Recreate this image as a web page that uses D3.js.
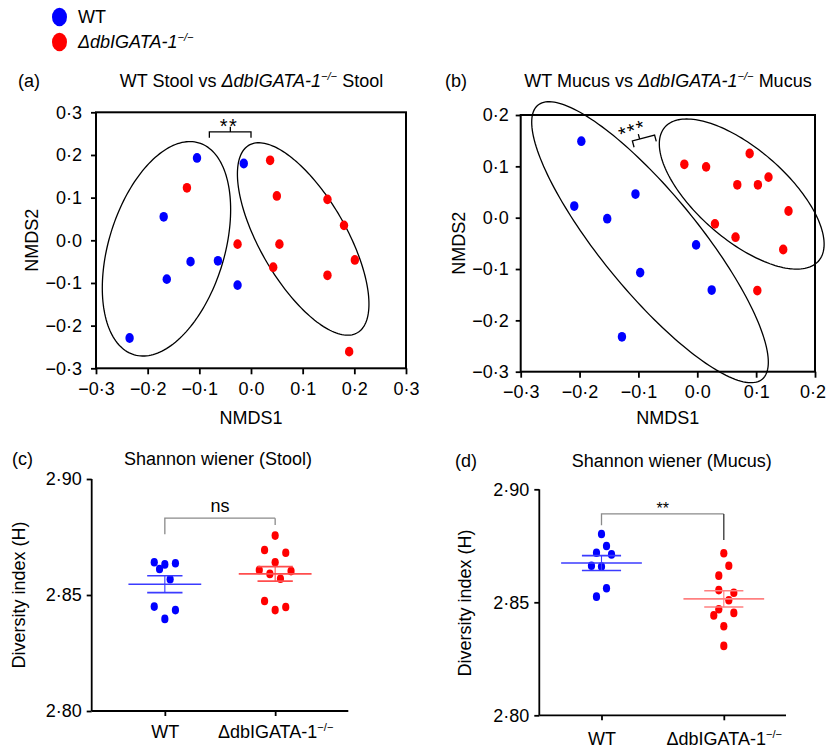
<!DOCTYPE html>
<html><head><meta charset="utf-8">
<script src="https://cdn.jsdelivr.net/npm/d3@7"></script>
<style>
body{margin:0;background:#fff;}
text{font-family:"Liberation Sans",Arial,Helvetica,sans-serif;fill:#000;}
</style></head><body>
<svg id="chart" width="827" height="750"></svg>
<script>
// ---------------- DATA ----------------
const groups = ["WT", "ΔdbIGATA-1−/−"];
const nmdsTicksA = [-0.3, -0.2, -0.1, 0, 0.1, 0.2, 0.3];
const nmdsTicksB = [-0.3, -0.2, -0.1, 0, 0.1, 0.2];
const diversityTicks = [2.80, 2.85, 2.90];

// NMDS ordination points [NMDS1, NMDS2]
const stoolWT = [[-0.1045,0.193],[-0.014,0.180],[-0.169,0.055],[-0.117,-0.050],[-0.064,-0.048],[-0.163,-0.091],[-0.026,-0.105],[-0.235,-0.229]];
const stoolKO = [[0.037,0.1875],[-0.124,0.123],[0.050,0.104],[0.148,0.096],[0.180,0.035],[-0.026,-0.009],[0.055,-0.009],[0.201,-0.046],[0.043,-0.063],[0.148,-0.082],[0.190,-0.261]];
const mucusWT = [[-0.197,0.149],[-0.209,0.0227],[-0.153,-0.002],[-0.105,0.046],[-0.097,-0.107],[-0.002,-0.053],[0.0245,-0.141],[-0.128,-0.232]];
const mucusKO = [[-0.022,0.104],[0.015,0.099],[0.089,0.125],[0.121,0.079],[0.068,0.064],[0.103,0.064],[0.155,0.013],[0.030,-0.012],[0.065,-0.038],[0.146,-0.062],[0.102,-0.142]];

// group ellipses in data units: centre (cx,cy), conjugate semi-diameters (ax,ay) and (0,by)
const stoolEllipses = [
  {cx:-0.1636, cy:-0.0199, ax:0.1242, ay:0.0919, by:0.2339},
  {cx:0.101, cy:0.0031, ax:0.1273, ay:-0.1523, by:0.1664}
];
const mucusEllipses = [
  {cx:-0.0803, cy:-0.0478, ax:0.201, ay:-0.2337, by:0.1424},
  {cx:0.0755, cy:0.046, ax:0.14, ay:-0.0976, by:0.1089}
];

// Shannon diversity values
const shannonStoolWT = [2.8641,2.8612,2.8632,2.8637,2.8568,2.8450,2.8435,2.8397];
const shannonStoolKO = [2.8756,2.8694,2.8682,2.8641,2.8608,2.8591,2.8603,2.8570,2.8474,2.8435,2.8448];
const shannonMucusWT = [2.8802,2.8749,2.8719,2.8712,2.8662,2.8658,2.8562,2.8525];
const shannonMucusKO = [2.8717,2.8662,2.8618,2.8554,2.8542,2.8509,2.8469,2.8442,2.8453,2.8394,2.8307];
// scatter-plot jitter slots
const jitterStoolWT = [-2,-1,0,2,1,-2,2,0];
const jitterStoolKO = [0,-2,2,0,-3,-1,3,1,-2,0,2];
const jitterMucusWT = [0,1,-1,2,-2,0,1,-1];
const jitterMucusKO = [0,1,-1,-1,2,1,-1,-2,2,0,0];

// ---------------- DRAW ----------------
const BLUE = "#0000ff", RED = "#ff0000";
const FONT = 18;
const svg = d3.select("#chart");

const fmt1 = d => (d < -1e-9 ? "−" : "") + Math.abs(d).toFixed(1).replace(".", "·");
const fmt2 = d => d.toFixed(2).replace(".", "·");

function richText(sel, parts, size) {
  parts.forEach(p => {
    const ts = sel.append("tspan").text(p.t);
    if (p.italic) ts.attr("font-style", "italic");
    if (p.sup) { ts.attr("font-size", size * 0.62).attr("dy", -size * 0.4); }
    if (p.after) ts.attr("dy", size * 0.4);
  });
}
function koParts(italic) {
  return [{t:"ΔdbIGATA-1", italic}, {t:"−/−", italic, sup:true}];
}

function styleAxis(g) {
  g.selectAll("text").attr("font-size", FONT).attr("fill", "#000")
    .style("font-family", '"Liberation Sans",Arial,Helvetica,sans-serif');
  g.selectAll("line").attr("stroke", "#000").attr("stroke-width", 1.8);
  g.select(".domain").remove();
}

// legend
const legend = svg.append("g");
legend.append("ellipse").attr("cx", 59.5).attr("cy", 17).attr("rx", 7.5).attr("ry", 9.3).attr("fill", BLUE);
legend.append("ellipse").attr("cx", 59.5).attr("cy", 42).attr("rx", 7.5).attr("ry", 9.3).attr("fill", RED);
legend.append("text").attr("x", 78).attr("y", 23).attr("font-size", FONT).text(groups[0]);
richText(legend.append("text").attr("x", 78).attr("y", 48).attr("font-size", FONT), koParts(true), FONT);

function nmdsPanel(cfg) {
  const g = svg.append("g");
  const x = d3.scaleLinear().domain(cfg.xDomain).range(cfg.xRange);
  const y = d3.scaleLinear().domain(cfg.yDomain).range(cfg.yRange);

  const ax = g.append("g").attr("transform", `translate(0,${cfg.yRange[0]})`)
    .call(d3.axisBottom(x).tickValues(cfg.xTicks).tickFormat(fmt1).tickSize(6).tickPadding(8));
  styleAxis(ax);
  if (cfg.lastDx) ax.selectAll(".tick text").filter((d, i, n) => i === n.length - 1).attr("dx", cfg.lastDx);
  const ay = g.append("g").attr("transform", `translate(${cfg.xRange[0]},0)`)
    .call(d3.axisLeft(y).tickValues(cfg.yTicks).tickFormat(fmt1).tickSize(5).tickPadding(cfg.yPad));
  styleAxis(ay);

  g.append("rect").attr("x", cfg.xRange[0]).attr("y", cfg.yRange[1])
    .attr("width", cfg.xRange[1] - cfg.xRange[0]).attr("height", cfg.yRange[0] - cfg.yRange[1])
    .attr("fill", "none").attr("stroke", "#000").attr("stroke-width", 2);

  // ellipses
  const ts = d3.range(0, 2 * Math.PI, Math.PI / 90);
  const line = d3.line().curve(d3.curveLinearClosed);
  cfg.ellipses.forEach(e => {
    const pts = ts.map(t => [x(e.cx + e.ax * Math.cos(t)), y(e.cy + e.ay * Math.cos(t) + e.by * Math.sin(t))]);
    g.append("path").attr("d", line(pts)).attr("fill", "none").attr("stroke", "#000").attr("stroke-width", 1.3);
  });

  [[cfg.wt, BLUE], [cfg.ko, RED]].forEach(([data, col]) => {
    g.selectAll(null).data(data).enter().append("ellipse")
      .attr("cx", d => x(d[0])).attr("cy", d => y(d[1]))
      .attr("rx", 4.2).attr("ry", 4.9).attr("fill", col);
  });

  // labels
  g.append("text").attr("x", cfg.tagX).attr("y", 87).attr("font-size", FONT).text(cfg.tag);
  const title = g.append("text").attr("x", cfg.titleX).attr("y", 87).attr("font-size", FONT).attr("text-anchor", "middle");
  richText(title, [{t: cfg.titleA}, ...koParts(true), {t: cfg.titleB, after:true}], FONT);
  g.append("text").attr("x", (cfg.xRange[0] + cfg.xRange[1]) / 2).attr("y", 424)
    .attr("font-size", FONT).attr("text-anchor", "middle").text("NMDS1");
  g.append("text").attr("transform", `translate(${cfg.yLabX},${(cfg.yRange[0] + cfg.yRange[1]) / 2}) rotate(-90)`)
    .attr("font-size", FONT).attr("text-anchor", "middle").text("NMDS2");
  return {g, x, y};
}

// (a)
const pa = nmdsPanel({
  xDomain: [-0.3, 0.3], yDomain: [-0.3, 0.3], xRange: [96, 406], yRange: [368.3, 112.3],
  xTicks: nmdsTicksA, yTicks: nmdsTicksA, yPad: 9, wt: stoolWT, ko: stoolKO, ellipses: stoolEllipses,
  tag: "(a)", tagX: 18, titleX: 251.5, titleA: "WT Stool vs ", titleB: " Stool", yLabX: 38
});
{
  const {g, x, y} = pa;
  const x1 = -0.0806, x2 = 0, xm = -0.04, yb = 0.254, ye = 0.2406, yt = 0.266;
  g.append("path").attr("d", `M${x(x1)},${y(ye)}V${y(yb)}H${x(x2)}V${y(ye)}M${x(xm)},${y(yb)}V${y(yt)}`)
    .attr("fill", "none").attr("stroke", "#000").attr("stroke-width", 1.3);
  g.append("text").attr("x", x(-0.0426)).attr("y", y(0.2796)).attr("dy", 11.5).attr("font-size", 20)
    .attr("letter-spacing", 1.5).attr("text-anchor", "middle").text("**");
}
// (b)
const pb = nmdsPanel({
  xDomain: [-0.3, 0.2], yDomain: [-0.3, 0.2], xRange: [520.7, 815], yRange: [371.7, 115],
  xTicks: nmdsTicksB, yTicks: nmdsTicksB, yPad: 7, wt: mucusWT, ko: mucusKO, ellipses: mucusEllipses,
  tag: "(b)", tagX: 445, titleX: 668, titleA: "WT Mucus vs ", titleB: " Mucus", yLabX: 465, lastDx: -2.5
});
{
  const {g, x, y} = pb;
  const br = g.append("g").attr("transform", `translate(${x(-0.0914)},${y(0.1552)}) rotate(-15)`);
  br.append("path").attr("d", "M-11.5,6.5V0H11.5V6.5M-4,0V-5")
    .attr("fill", "none").attr("stroke", "#000").attr("stroke-width", 1.3);
  g.append("text").attr("transform", `translate(${x(-0.1126)},${y(0.1786)}) rotate(-20)`)
    .attr("dy", 11.5).attr("font-size", 20).attr("letter-spacing", 1.5).attr("text-anchor", "middle").text("***");
}

function shannonPanel(cfg) {
  const g = svg.append("g");
  const x = d3.scalePoint().domain(groups).range(cfg.xRange).padding(cfg.pad);
  const y = d3.scaleLinear().domain([2.80, 2.90]).range(cfg.yRange);
  const step = x.step();

  const ay = g.append("g").attr("transform", `translate(${cfg.xRange[0]},0)`)
    .call(d3.axisLeft(y).tickValues(diversityTicks).tickFormat(fmt2).tickSize(5).tickPadding(5));
  styleAxis(ay);
  g.append("line").attr("x1", cfg.xRange[0]).attr("x2", cfg.xRange[0]).attr("y1", cfg.yRange[0]).attr("y2", cfg.yRange[1])
    .attr("stroke", "#000").attr("stroke-width", 1.8);
  const axb = g.append("g").attr("transform", `translate(0,${cfg.yRange[0]})`)
    .call(d3.axisBottom(x).tickSize(5).tickPadding(cfg.xPad));
  styleAxis(axb);
  g.append("line").attr("x1", cfg.xRange[0]).attr("x2", cfg.xRange[1]).attr("y1", cfg.yRange[0]).attr("y2", cfg.yRange[0])
    .attr("stroke", "#000").attr("stroke-width", 1.8);
  // KO tick label with superscript
  axb.selectAll(".tick text").filter(d => d === groups[1]).each(function() {
    const t = d3.select(this); t.text(null);
    richText(t, koParts(false), FONT);
  });

  const sets = [
    {vals: cfg.wt, jit: cfg.jwt, grp: groups[0], col: BLUE, line: cfg.lineWT},
    {vals: cfg.ko, jit: cfg.jko, grp: groups[1], col: RED, line: cfg.lineKO}
  ];
  const unit = step * cfg.jitter;
  sets.forEach(s => {
    const cx = x(s.grp);
    const m = d3.mean(s.vals), sem = d3.deviation(s.vals) / Math.sqrt(s.vals.length);
    g.selectAll(null).data(s.vals).enter().append("ellipse")
      .attr("cx", (d, i) => cx + s.jit[i] * unit).attr("cy", d => y(d))
      .attr("rx", 3.6).attr("ry", 4.3).attr("fill", s.col);
    const lg = g.append("g").attr("stroke", s.line).attr("stroke-width", 1.6).attr("fill", "none");
    lg.append("line").attr("x1", cx - step * 0.33).attr("x2", cx + step * 0.33).attr("y1", y(m)).attr("y2", y(m));
    [m - sem, m + sem].forEach(v => lg.append("line").attr("x1", cx - step * 0.16).attr("x2", cx + step * 0.16).attr("y1", y(v)).attr("y2", y(v)));
    lg.append("line").attr("x1", cx).attr("x2", cx).attr("y1", y(m - sem)).attr("y2", y(m + sem)).attr("stroke-width", 1.1);
  });

  // significance bracket
  const b = cfg.bracket;
  g.append("path").attr("d", `M${x(groups[0])},${y(b.left)}V${y(b.top)}H${x(groups[1])}`)
    .attr("fill", "none").attr("stroke", "#8a8a8a").attr("stroke-width", 1.3);
  g.append("path").attr("d", `M${x(groups[1])},${y(b.top)}V${y(b.right)}`)
    .attr("fill", "none").attr("stroke", b.rightCol).attr("stroke-width", 1.3);
  g.append("text").attr("x", (x(groups[0]) + x(groups[1])) / 2).attr("y", y(b.top) + b.labDy)
    .attr("font-size", b.labSize).attr("text-anchor", "middle").text(b.label);

  g.append("text").attr("x", cfg.tagX).attr("y", cfg.tagY).attr("font-size", FONT).text(cfg.tag);
  g.append("text").attr("x", cfg.titleX).attr("y", cfg.tagY).attr("font-size", FONT).attr("text-anchor", "middle").text(cfg.title);
  g.append("text").attr("transform", `translate(${cfg.yLabX},${cfg.yLabY}) rotate(-90)`)
    .attr("font-size", FONT).attr("text-anchor", "middle").text("Diversity index (H)");
}

shannonPanel({
  xRange: [91.7, 348.3], pad: 0.663, yRange: [711, 479], xPad: 9, jitter: 0.048,
  wt: shannonStoolWT, ko: shannonStoolKO, jwt: jitterStoolWT, jko: jitterStoolKO,
  lineWT: "#3b3bff", lineKO: "#ff4d4d",
  bracket: {left: 2.8762, top: 2.8831, right: 2.8802, label: "ns", labSize: 18, labDy: -6.5, rightCol: "#8a8a8a"},
  tag: "(c)", tagX: 12, tagY: 465, title: "Shannon wiener (Stool)", titleX: 218, yLabX: 25, yLabY: 595
});
shannonPanel({
  xRange: [539.3, 786], pad: 0.5085, yRange: [715.3, 489.3], xPad: 12, jitter: 0.041,
  wt: shannonMucusWT, ko: shannonMucusKO, jwt: jitterMucusWT, jko: jitterMucusKO,
  lineWT: "#3b3bff", lineKO: "#ff8080",
  bracket: {left: 2.8841, top: 2.8891, right: 2.8776, label: "**", labSize: 16, labDy: 0, rightCol: "#333"},
  tag: "(d)", tagX: 455, tagY: 467, title: "Shannon wiener (Mucus)", titleX: 671.7, yLabX: 471, yLabY: 603
});
</script>
</body></html>
